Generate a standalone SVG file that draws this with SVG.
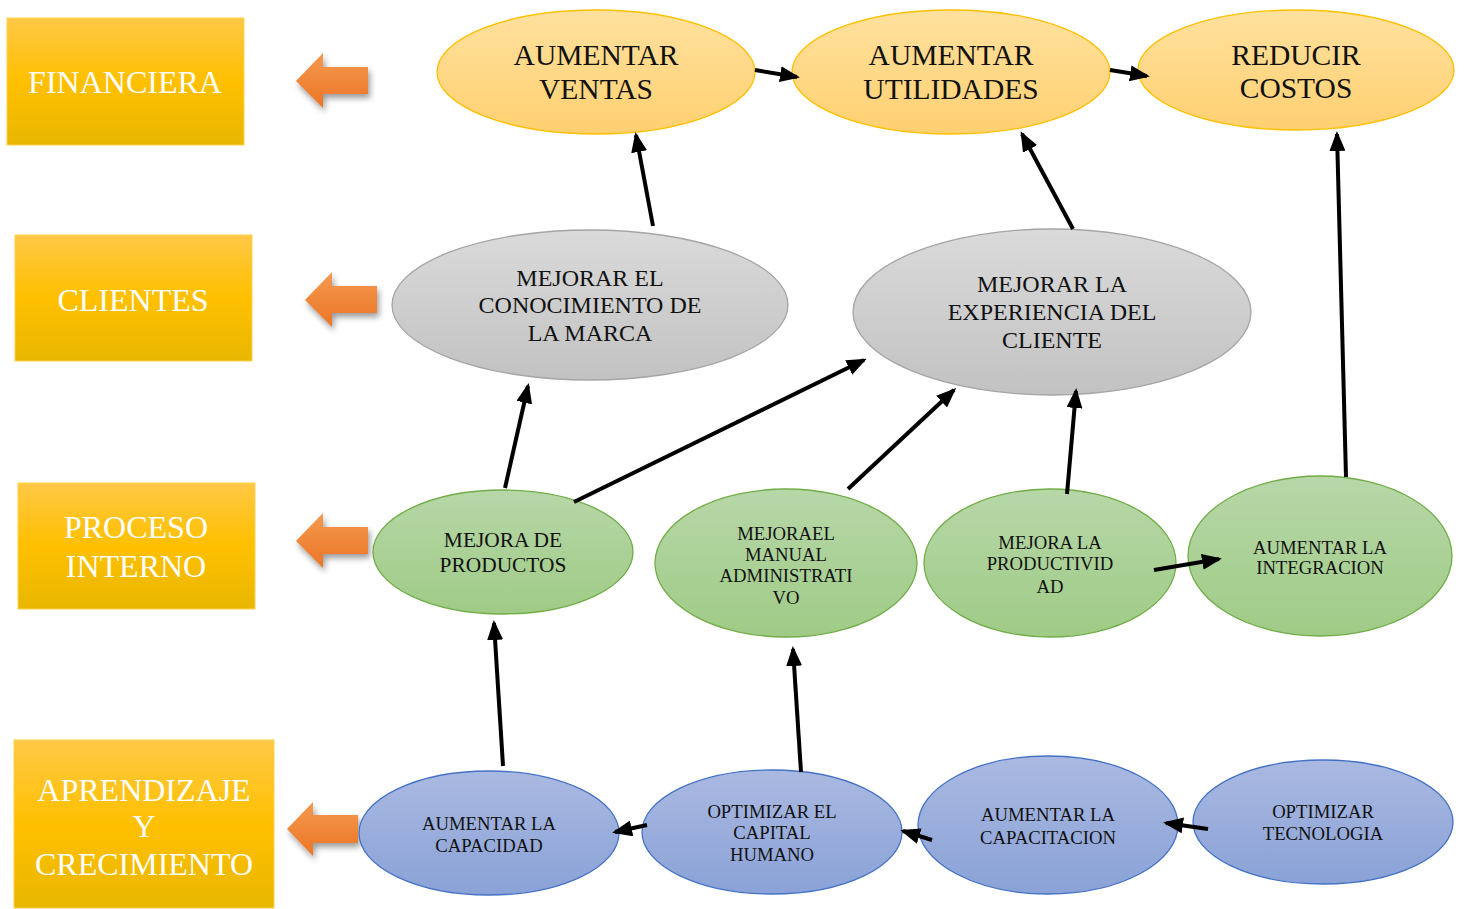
<svg xmlns="http://www.w3.org/2000/svg" width="1464" height="909" viewBox="0 0 1464 909">
  <style>
    .persp text { font-family: "Liberation Serif", "Times New Roman", serif; fill: #ffffff; text-anchor: middle; dominant-baseline: central; font-size: 32px; }
    .node text { font-family: "Liberation Serif", "Times New Roman", serif; fill: #111111; text-anchor: middle; dominant-baseline: central; }
    .fin text { font-size: 29.5px; }
    .cli text { font-size: 24px; }
    .pro text, .apr text { font-size: 18.7px; }
    .fin ellipse { fill: url(#gYellow); stroke: #FFC000; stroke-width: 1.3; }
    .cli ellipse { fill: url(#gGray); stroke: #A5A5A5; stroke-width: 1.3; }
    .pro ellipse { fill: url(#gGreen); stroke: #70AD47; stroke-width: 1.3; }
    .apr ellipse { fill: url(#gBlue); stroke: #4472C4; stroke-width: 1.3; }
    .persp rect { fill: url(#gGold); stroke: #FFD24D; stroke-width: 1; }
    .orange { fill: url(#gOrange); filter: url(#shadow); }
    #connectors line { stroke: #000000; stroke-width: 4; marker-end: url(#head); }
  </style>
  <defs>
    <linearGradient id="gGold" x1="0" y1="0" x2="0" y2="1">
      <stop offset="0" stop-color="#FFC846"/>
      <stop offset="0.5" stop-color="#FFC000"/>
      <stop offset="1" stop-color="#E8B700"/>
    </linearGradient>
    <linearGradient id="gYellow" x1="0" y1="0" x2="0" y2="1">
      <stop offset="0" stop-color="#FFE19E"/>
      <stop offset="1" stop-color="#FFD071"/>
    </linearGradient>
    <linearGradient id="gGray" x1="0" y1="0" x2="0" y2="1">
      <stop offset="0" stop-color="#DADADA"/>
      <stop offset="1" stop-color="#C2C2C2"/>
    </linearGradient>
    <linearGradient id="gGreen" x1="0" y1="0" x2="0" y2="1">
      <stop offset="0" stop-color="#B7D7A8"/>
      <stop offset="1" stop-color="#9FCB86"/>
    </linearGradient>
    <linearGradient id="gBlue" x1="0" y1="0" x2="0" y2="1">
      <stop offset="0" stop-color="#AAB9E1"/>
      <stop offset="1" stop-color="#8AA2D7"/>
    </linearGradient>
    <linearGradient id="gOrange" x1="0" y1="0" x2="0" y2="1">
      <stop offset="0" stop-color="#F49A50"/>
      <stop offset="1" stop-color="#EC7425"/>
    </linearGradient>
    <filter id="shadow" x="-30%" y="-30%" width="160%" height="170%">
      <feGaussianBlur in="SourceAlpha" stdDeviation="3"/>
      <feOffset dx="2" dy="4" result="b"/>
      <feComponentTransfer><feFuncA type="linear" slope="0.4"/></feComponentTransfer>
      <feMerge><feMergeNode/><feMergeNode in="SourceGraphic"/></feMerge>
    </filter>
    <marker id="head" markerUnits="userSpaceOnUse" viewBox="0 0 20 16" markerWidth="20" markerHeight="16" refX="17" refY="8" orient="auto">
      <path d="M0,0 L20,8 L0,16 z" fill="#000000"/>
    </marker>
  </defs>

  <!-- perspective labels -->
  <g id="p-financiera" class="persp">
    <rect x="7" y="18" width="237" height="127"/>
    <text x="125" y="82">FINANCIERA</text>
  </g>
  <g id="p-clientes" class="persp">
    <rect x="15" y="235" width="237" height="126"/>
    <text x="133" y="300">CLIENTES</text>
  </g>
  <g id="p-proceso" class="persp">
    <rect x="18" y="483" width="237" height="126"/>
    <text x="136" y="527">PROCESO</text>
    <text x="136" y="566">INTERNO</text>
  </g>
  <g id="p-aprendizaje" class="persp">
    <rect x="14" y="740" width="260" height="168"/>
    <text x="144" y="790">APRENDIZAJE</text>
    <text x="144" y="826">Y</text>
    <text x="144" y="864">CRECIMIENTO</text>
  </g>

  <!-- left-pointing block arrows -->
  <g id="arrows-left">
    <path class="orange" d="M296,81 L323,53 L323,67 L368,67 L368,94 L323,94 L323,108 z"/>
    <path class="orange" d="M305,300 L332,272 L332,286 L377,286 L377,313 L332,313 L332,327 z"/>
    <path class="orange" d="M296,541 L323,513 L323,527 L368,527 L368,554 L323,554 L323,568 z"/>
    <path class="orange" d="M287,829 L313,802 L313,815 L358,815 L358,843 L313,843 L313,856 z"/>
  </g>

  <!-- financial objectives -->
  <g id="n-ventas" class="node fin">
    <ellipse cx="596" cy="72" rx="159" ry="62"/>
    <text x="596" y="55">AUMENTAR</text>
    <text x="596" y="89">VENTAS</text>
  </g>
  <g id="n-utilidades" class="node fin">
    <ellipse cx="951" cy="72" rx="159" ry="62"/>
    <text x="951" y="55">AUMENTAR</text>
    <text x="951" y="89">UTILIDADES</text>
  </g>
  <g id="n-costos" class="node fin">
    <ellipse cx="1296" cy="70" rx="158" ry="60"/>
    <text x="1296" y="55">REDUCIR</text>
    <text x="1296" y="88">COSTOS</text>
  </g>

  <!-- customer objectives -->
  <g id="n-marca" class="node cli">
    <ellipse cx="590" cy="305" rx="198" ry="75"/>
    <text x="590" y="278">MEJORAR EL</text>
    <text x="590" y="305">CONOCIMIENTO DE</text>
    <text x="590" y="333">LA MARCA</text>
  </g>
  <g id="n-experiencia" class="node cli">
    <ellipse cx="1052" cy="312" rx="199" ry="83"/>
    <text x="1052" y="284">MEJORAR LA</text>
    <text x="1052" y="312">EXPERIENCIA DEL</text>
    <text x="1052" y="340">CLIENTE</text>
  </g>

  <!-- internal process objectives -->
  <g id="n-productos" class="node pro">
    <ellipse cx="503" cy="552" rx="130" ry="62"/>
    <text x="503" y="540" style="font-size:21.4px">MEJORA DE</text>
    <text x="503" y="565" style="font-size:21.4px">PRODUCTOS</text>
  </g>
  <g id="n-manual" class="node pro">
    <ellipse cx="786" cy="563" rx="131" ry="74"/>
    <text x="786" y="533">MEJORAEL</text>
    <text x="786" y="554">MANUAL</text>
    <text x="786" y="575">ADMINISTRATI</text>
    <text x="786" y="597">VO</text>
  </g>
  <g id="n-productividad" class="node pro">
    <ellipse cx="1050" cy="563" rx="126" ry="74"/>
    <text x="1050" y="542">MEJORA LA</text>
    <text x="1050" y="563">PRODUCTIVID</text>
    <text x="1050" y="586">AD</text>
  </g>
  <g id="n-integracion" class="node pro">
    <ellipse cx="1320" cy="556" rx="132" ry="80"/>
    <text x="1320" y="547">AUMENTAR LA</text>
    <text x="1320" y="567">INTEGRACION</text>
  </g>

  <!-- learning and growth objectives -->
  <g id="n-capacidad" class="node apr">
    <ellipse cx="489" cy="833" rx="130" ry="62"/>
    <text x="489" y="823">AUMENTAR LA</text>
    <text x="489" y="845">CAPACIDAD</text>
  </g>
  <g id="n-capital" class="node apr">
    <ellipse cx="772" cy="832" rx="130" ry="62"/>
    <text x="772" y="811">OPTIMIZAR EL</text>
    <text x="772" y="832">CAPITAL</text>
    <text x="772" y="854">HUMANO</text>
  </g>
  <g id="n-capacitacion" class="node apr">
    <ellipse cx="1048" cy="825" rx="130" ry="69"/>
    <text x="1048" y="814">AUMENTAR LA</text>
    <text x="1048" y="837">CAPACITACION</text>
  </g>
  <g id="n-tecnologia" class="node apr">
    <ellipse cx="1323" cy="822" rx="130" ry="62"/>
    <text x="1323" y="811">OPTIMIZAR</text>
    <text x="1323" y="833">TECNOLOGIA</text>
  </g>

  <!-- cause-effect links -->
  <g id="connectors">
    <line x1="755" y1="70" x2="797" y2="77"/>
    <line x1="1110" y1="70" x2="1147" y2="76"/>
    <line x1="653" y1="226" x2="636" y2="135"/>
    <line x1="1073" y1="229" x2="1022" y2="134"/>
    <line x1="1346" y1="477" x2="1337" y2="134"/>
    <line x1="505" y1="488" x2="528" y2="386"/>
    <line x1="574" y1="502" x2="864" y2="360"/>
    <line x1="848" y1="489" x2="954" y2="390"/>
    <line x1="1067" y1="494" x2="1076" y2="391"/>
    <line x1="1154" y1="570" x2="1219" y2="559"/>
    <line x1="503" y1="766" x2="494" y2="623"/>
    <line x1="801" y1="772" x2="793" y2="649"/>
    <line x1="647" y1="825" x2="615" y2="832"/>
    <line x1="932" y1="840" x2="903" y2="831"/>
    <line x1="1208" y1="829" x2="1166" y2="823"/>
  </g>
</svg>
